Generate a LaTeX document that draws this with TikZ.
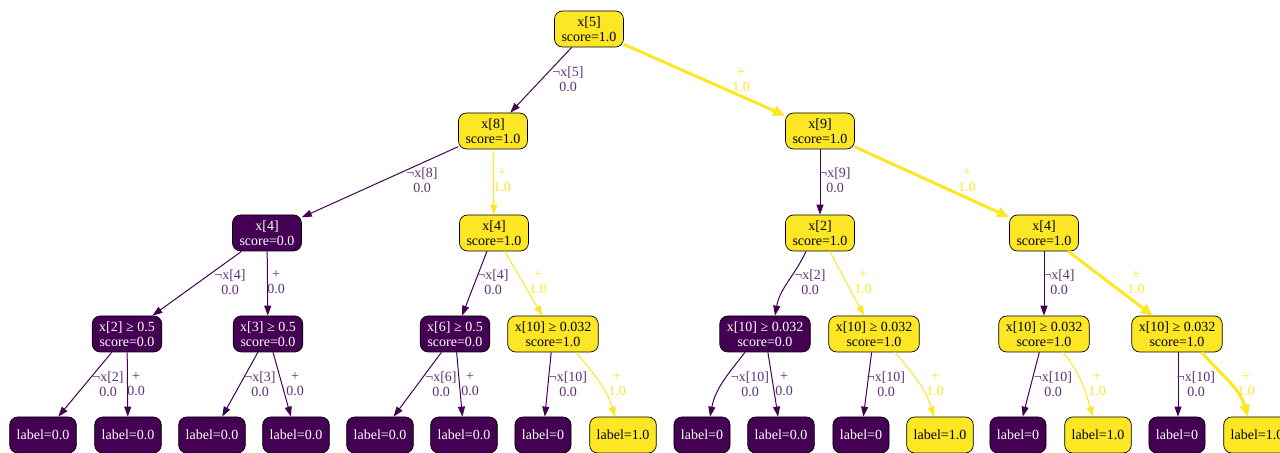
\documentclass[tikz,border=0pt]{standalone}
\usepackage{fontspec}
\setmainfont{Liberation Serif}
\usetikzlibrary{arrows.meta}
\definecolor{vp}{HTML}{440154}
\definecolor{vy}{HTML}{FDE725}
\definecolor{vpl}{HTML}{5E2F74}
\newcommand\fsz{\fontsize{14bp}{15bp}\selectfont}
\begin{document}
\begin{tikzpicture}[x=1bp,y=1bp,
  tn/.style={rectangle, rounded corners=8bp, draw=black, line width=0.7bp, minimum width=54bp, minimum height=36bp, inner xsep=7bp, inner ysep=4bp, align=center, font=\fsz},
  yn/.style={tn, fill=vy, text=black},
  pn/.style={tn, fill=vp, text=white},
  pe/.style={draw=vp, line width=1bp, -{Triangle[length=10bp,width=7bp]}},
  ye/.style={draw=vy, line width=1bp, -{Triangle[length=10bp,width=7bp]}},
  yt/.style={draw=vy, line width=3bp, -{Triangle[length=12bp,width=10bp]}},
  pl/.style={align=center, font=\fsz, text=vpl, inner sep=0pt},
  yl/.style={align=center, font=\fsz, text=vy, inner sep=0pt}]
\useasboundingbox (0,0) rectangle (1280,453);
% nodes
\node[yn] (n0) at (589,424) {x[5]\\score=1.0};
\node[yn] (n1a) at (493,322) {x[8]\\score=1.0};
\node[yn] (n1b) at (820,322) {x[9]\\score=1.0};
\node[pn] (n2a) at (267,220) {x[4]\\score=0.0};
\node[yn] (n2b) at (494,220) {x[4]\\score=1.0};
\node[yn] (n2c) at (820,220) {x[2]\\score=1.0};
\node[yn] (n2d) at (1044,220) {x[4]\\score=1.0};
\node[pn] (n3a) at (127,119) {x[2] ≥ 0.5\\score=0.0};
\node[pn] (n3b) at (268,119) {x[3] ≥ 0.5\\score=0.0};
\node[pn] (n3c) at (455,119) {x[6] ≥ 0.5\\score=0.0};
\node[yn] (n3d) at (553,119) {x[10] ≥ 0.032\\score=1.0};
\node[pn] (n3e) at (765,119) {x[10] ≥ 0.032\\score=0.0};
\node[yn] (n3f) at (874,119) {x[10] ≥ 0.032\\score=1.0};
\node[yn] (n3g) at (1044,119) {x[10] ≥ 0.032\\score=1.0};
\node[yn] (n3h) at (1177,119) {x[10] ≥ 0.032\\score=1.0};
\node[pn] (l1) at (43,18) {label=0.0};
\node[pn] (l2) at (128,18) {label=0.0};
\node[pn] (l3) at (212,18) {label=0.0};
\node[pn] (l4) at (296,18) {label=0.0};
\node[pn] (l5) at (380,18) {label=0.0};
\node[pn] (l6) at (464,18) {label=0.0};
\node[pn] (l7) at (543,18) {label=0};
\node[yn] (l8) at (623,18) {label=1.0};
\node[pn] (l9) at (702,18) {label=0};
\node[pn] (l10) at (781,18) {label=0.0};
\node[pn] (l11) at (861,18) {label=0};
\node[yn] (l12) at (940,18) {label=1.0};
\node[pn] (l13) at (1018,18) {label=0};
\node[yn] (l14) at (1098,18) {label=1.0};
\node[pn] (l15) at (1177,18) {label=0};
\node[yn] (l16) at (1257,18) {label=1.0};
% level 0-1
\draw[pe] (n0) -- (n1a);
\draw[yt] (n0) -- (n1b);
\node[pl] (e01) at (568,374) {¬x[5]\\0.0};
\node[yl] (e02) at (741,373) {+\\1.0};
% level 1-2
\draw[pe] (n1a) -- (n2a);
\draw[ye] (n1a) -- (n2b);
\draw[pe] (n1b) -- (n2c);
\draw[yt] (n1b) -- (n2d);
\node[pl] (e11) at (422,273) {¬x[8]\\0.0};
\node[yl] (e12) at (502,273) {+\\1.0};
\node[pl] (e13) at (835,273) {¬x[9]\\0.0};
\node[yl] (e14) at (967,273) {+\\1.0};
% level 2-3
\draw[pe] (n2a) -- (n3a);
\draw[pe] (n2a) -- (n3b);
\draw[pe] (n2b) -- (n3c);
\draw[ye] (n2b) -- (n3d);
\draw[pe] ([xshift=-14bp]n2c.south) to[out=-115,in=80] ([xshift=10bp]n3e.north);
\draw[ye] (n2c) -- (n3f);
\draw[pe] (n2d) -- (n3g);
\draw[yt] (n2d) -- (n3h);
\node[pl] (e21) at (230,171) {¬x[4]\\0.0};
\node[pl] (e22) at (276,171) {+\\0.0};
\node[pl] (e23) at (493,171) {¬x[4]\\0.0};
\node[yl] (e24) at (538,171) {+\\1.0};
\node[pl] (e25) at (810,171) {¬x[2]\\0.0};
\node[yl] (e26) at (863,171) {+\\1.0};
\node[pl] (e27) at (1059,171) {¬x[4]\\0.0};
\node[yl] (e28) at (1136,171) {+\\1.0};
% level 3-4
\draw[pe] (n3a) -- (l1);
\draw[pe] (n3a) -- (l2);
\draw[pe] (n3b) -- (l3);
\draw[pe] (n3b) -- (l4);
\draw[pe] (n3c) -- (l5);
\draw[pe] (n3c) -- (l6);
\draw[pe] (n3d) -- (l7);
\draw[ye] ([xshift=23bp]n3d.south) to[out=-50,in=107] ([xshift=-8bp]l8.north);
\draw[pe] ([xshift=-20bp]n3e.south) to[out=-128,in=79] ([xshift=8bp]l9.north);
\draw[pe] (n3e) -- (l10);
\draw[pe] (n3f) -- (l11);
\draw[ye] ([xshift=21bp]n3f.south) to[out=-50,in=107] ([xshift=-6bp]l12.north);
\draw[pe] (n3g) -- (l13);
\draw[ye] ([xshift=19bp]n3g.south) to[out=-50,in=107] ([xshift=-5bp]l14.north);
\draw[pe] ([xshift=1bp]n3h.south) -- ([xshift=1bp]l15.north);
\draw[yt] ([xshift=25bp]n3h.south) to[out=-50,in=107] ([xshift=-9bp]l16.north);
\node[pl] (e31) at (108,69) {¬x[2]\\0.0};
\node[pl] (e32) at (136,69) {+\\0.0};
\node[pl] (e33) at (260,69) {¬x[3]\\0.0};
\node[pl] (e34) at (295,69) {+\\0.0};
\node[pl] (e35) at (441,69) {¬x[6]\\0.0};
\node[pl] (e36) at (470,69) {+\\0.0};
\node[pl] (e37) at (568,69) {¬x[10]\\0.0};
\node[yl] (e38) at (617,69) {+\\1.0};
\node[pl] (e39) at (750,69) {¬x[10]\\0.0};
\node[pl] (e40) at (784,69) {+\\0.0};
\node[pl] (e41) at (886,69) {¬x[10]\\0.0};
\node[yl] (e42) at (935,69) {+\\1.0};
\node[pl] (e43) at (1053,69) {¬x[10]\\0.0};
\node[yl] (e44) at (1097,69) {+\\1.0};
\node[pl] (e45) at (1196,69) {¬x[10]\\0.0};
\node[yl] (e46) at (1246,69) {+\\1.0};
\end{tikzpicture}
\end{document}
